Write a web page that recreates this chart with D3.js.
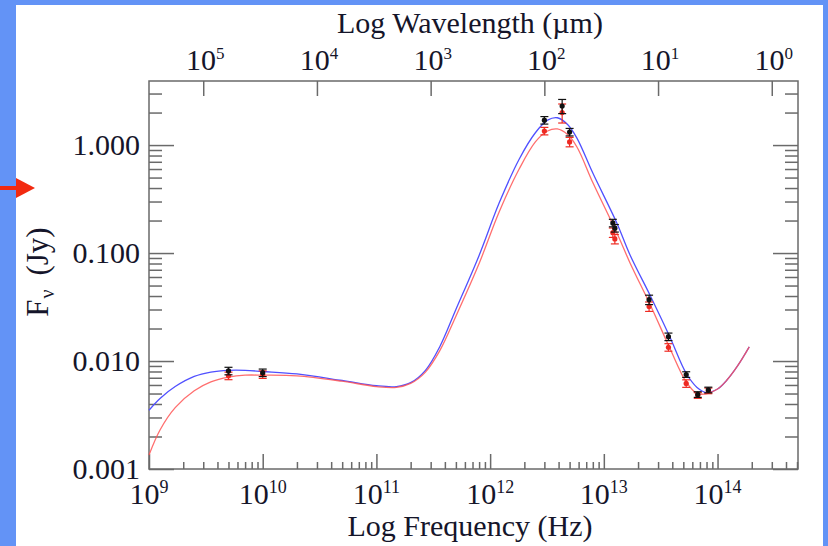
<!DOCTYPE html>
<html>
<head>
<meta charset="utf-8">
<script src="https://cdn.jsdelivr.net/npm/d3@7"></script>
<style>
  body { margin: 0; background: #6393f6; }
  svg { display: block; }
  text { font-family: "Liberation Serif", "Times New Roman", serif; fill: #15152a; }
</style>
</head>
<body>
<div id="chart"></div>
<script>
// model curves (Hz, Jy)
var modelFreq = [1e9, 1.25e9, 1.7e9, 2.5e9, 3.5e9, 5e9, 7e9, 1e10, 2e10, 5e10, 1e11, 1.5e11, 2e11,
    2.7e11, 3.6e11, 5e11, 8e11, 1.2e12, 1.8e12, 2.5e12, 3.2e12, 3.9e12, 4.8e12, 5.8e12, 8e12,
    1.3e13, 1.7e13, 2.6e13, 3.8e13, 5.3e13, 6.6e13, 8.1e13, 1e14, 1.2e14, 1.5e14, 1.9e14];
var blueFlux = [0.0035, 0.0045, 0.0058, 0.0072, 0.0079, 0.0082, 0.0082, 0.0080, 0.0076, 0.0066, 0.0059, 0.0058, 0.0063,
    0.0082, 0.0135, 0.030, 0.095, 0.29, 0.74, 1.30, 1.70, 1.79, 1.55, 1.16, 0.55,
    0.19, 0.096, 0.039, 0.0168, 0.0077, 0.0057, 0.0051, 0.0055, 0.0066, 0.0090, 0.0135];
var redFlux = [0.00135, 0.0023, 0.0037, 0.0053, 0.0064, 0.0071, 0.0074, 0.0074, 0.0073, 0.0065, 0.0058, 0.0057, 0.0062,
    0.0079, 0.0124, 0.026, 0.080, 0.24, 0.60, 1.07, 1.35, 1.41, 1.25, 0.96, 0.45,
    0.154, 0.081, 0.032, 0.0132, 0.0064, 0.0050, 0.0050, 0.0055, 0.0066, 0.0090, 0.0135];

// measured points
var pointFreq = [5e9, 1e10, 3e12, 4.3e12, 5e12, 1.2e13, 1.25e13, 2.5e13, 3.7e13, 5.3e13, 6.7e13, 8.3e13];
var blackFlux = [0.0081, 0.0078, 1.70, 2.30, 1.32, 0.19, 0.17, 0.037, 0.0168, 0.0075, 0.0049, 0.0054];
var blackErr  = [0.08, 0.08, 0.08, 0.15, 0.08, 0.08, 0.08, 0.1, 0.08, 0.06, 0.06, 0.06];
var redPtFlux = [0.0073, 0.0075, 1.35, 2.00, 1.07, 0.155, 0.135, 0.032, 0.0134, 0.0062, 0.0048, 0.0053];
var redPtErr  = [0.08, 0.08, 0.08, 0.2, 0.1, 0.1, 0.1, 0.1, 0.08, 0.08, 0.06, 0.06];

var freqTicks = [1e9, 1e10, 1e11, 1e12, 1e13, 1e14];
var waveTicks = [1e5, 1e4, 1e3, 1e2, 1e1, 1e0];
var fluxTicks = [1, 0.1, 0.01, 0.001];

(function() {
var width = 828, height = 546;
var pl = 149, pr = 798, pt = 81, pb = 469;
var cMicron = 2.998e14;

var svg = d3.select("#chart").append("svg")
    .attr("width", width)
    .attr("height", height);

svg.append("rect").attr("x", 16).attr("y", 5).attr("width", 807).attr("height", height - 5).attr("fill", "white");

// red pointer arrow on the left
svg.append("line").attr("x1", 0).attr("y1", 188).attr("x2", 20).attr("y2", 188)
    .attr("stroke", "#f22a10").attr("stroke-width", 4);
svg.append("path").attr("d", "M16,178L35,188L16,198Z").attr("fill", "#f22a10");

var x = d3.scaleLog().domain([1e9, 5.1e14]).range([pl, pr]);
var xw = d3.scaleLog().domain([cMicron / 1e9, cMicron / 5.1e14]).range([pl, pr]);
var y = d3.scaleLog().domain([0.001, 3.92]).range([pb, pt]);

function minors(scale) {
    var d = scale.domain(), lo = Math.min(d[0], d[1]), hi = Math.max(d[0], d[1]);
    var out = [];
    for (var e = Math.floor(Math.log10(lo)); e <= Math.ceil(Math.log10(hi)); e++) {
        for (var k = 2; k <= 9; k++) {
            var v = k * Math.pow(10, e);
            if (v >= lo && v <= hi) out.push(v);
        }
    }
    return out;
}

var axisColor = "#6a6a6a";
function styleAxis(g) {
    g.select(".domain").remove();
    g.selectAll("line").attr("stroke", axisColor).attr("stroke-width", 1.5);
}

// bottom
svg.append("g").attr("transform", "translate(0," + pb + ")")
    .call(d3.axisBottom(x).tickValues(freqTicks).tickSize(-15).tickFormat("")).call(styleAxis);
svg.append("g").attr("transform", "translate(0," + pb + ")")
    .call(d3.axisBottom(x).tickValues(minors(x)).tickSize(-7).tickFormat("")).call(styleAxis);
// top (wavelength)
svg.append("g").attr("transform", "translate(0," + pt + ")")
    .call(d3.axisTop(xw).tickValues(waveTicks).tickSize(-15).tickFormat("")).call(styleAxis);
// left / right
[["axisLeft", pl], ["axisRight", pr]].forEach(function(a) {
    svg.append("g").attr("transform", "translate(" + a[1] + ",0)")
        .call(d3[a[0]](y).tickValues(fluxTicks).tickSize(-25).tickFormat("")).call(styleAxis);
    svg.append("g").attr("transform", "translate(" + a[1] + ",0)")
        .call(d3[a[0]](y).tickValues(minors(y)).tickSize(-13).tickFormat("")).call(styleAxis);
});

svg.append("rect")
    .attr("x", pl).attr("y", pt).attr("width", pr - pl).attr("height", pb - pt)
    .attr("fill", "none").attr("stroke", axisColor).attr("stroke-width", 1.5);

// tick labels
function powLabel(xpos, ypos, exp, supSize) {
    var t = svg.append("text").attr("x", xpos).attr("y", ypos)
        .attr("text-anchor", "middle").style("font-size", "30px");
    t.append("tspan").text("10");
    t.append("tspan").attr("dy", -11).style("font-size", supSize + "px").text(exp);
}
freqTicks.forEach(function(v) { powLabel(x(v), 504, Math.round(Math.log10(v)), 18); });
waveTicks.forEach(function(v) { powLabel(xw(v) + 2, 70, Math.round(Math.log10(v)), 17); });

svg.selectAll(".ylab").data(fluxTicks).enter().append("text")
    .attr("class", "ylab")
    .attr("x", 140).attr("y", function(d) { return y(d) + 10; })
    .attr("text-anchor", "end").style("font-size", "30px")
    .text(d3.format(".3f"));

// titles
svg.append("text").attr("x", 470).attr("y", 33).attr("text-anchor", "middle")
    .style("font-size", "30px").text("Log Wavelength (\u00b5m)");
svg.append("text").attr("x", 470).attr("y", 536).attr("text-anchor", "middle")
    .style("font-size", "30px").text("Log Frequency (Hz)");
var yt = svg.append("text").attr("transform", "translate(48,272) rotate(-90)")
    .attr("text-anchor", "middle").style("font-size", "31px");
yt.append("tspan").text("F");
yt.append("tspan").attr("dy", 6).attr("dx", 1).style("font-size", "20px").text("\u03bd");
yt.append("tspan").attr("dy", -6).attr("dx", 6).text(" (Jy)");

// model curves
var line = d3.line()
    .x(function(d) { return x(d[0]); })
    .y(function(d) { return y(d[1]); })
    .curve(d3.curveCatmullRom);

svg.append("path").datum(d3.zip(modelFreq, blueFlux))
    .attr("d", line).attr("fill", "none").attr("stroke", "#5050ff").attr("stroke-width", 1.3);
svg.append("path").datum(d3.zip(modelFreq, redFlux))
    .attr("d", line).attr("fill", "none").attr("stroke", "#ff5555").attr("stroke-width", 1.3)
    .attr("stroke-opacity", 0.85);

// points with error bars
function drawPoints(flux, err, color) {
    var g = svg.append("g").selectAll("g")
        .data(d3.zip(pointFreq, flux, err))
        .enter().append("g")
        .attr("stroke", color).attr("fill", color);
    g.append("line")
        .attr("x1", function(d) { return x(d[0]); }).attr("x2", function(d) { return x(d[0]); })
        .attr("y1", function(d) { return y(d[1] * (1 + d[2])); })
        .attr("y2", function(d) { return y(d[1] * (1 - d[2])); })
        .attr("stroke-width", 1.2);
    [1, -1].forEach(function(s) {
        g.append("line")
            .attr("x1", function(d) { return x(d[0]) - 4; }).attr("x2", function(d) { return x(d[0]) + 4; })
            .attr("y1", function(d) { return y(d[1] * (1 + s * d[2])); })
            .attr("y2", function(d) { return y(d[1] * (1 + s * d[2])); })
            .attr("stroke-width", 1.2);
    });
    g.append("circle")
        .attr("cx", function(d) { return x(d[0]); })
        .attr("cy", function(d) { return y(d[1]); })
        .attr("r", 2.6).attr("stroke", "none");
}
drawPoints(redPtFlux, redPtErr, "#ee2a22");
drawPoints(blackFlux, blackErr, "#111");
})();
</script>
</body>
</html>
